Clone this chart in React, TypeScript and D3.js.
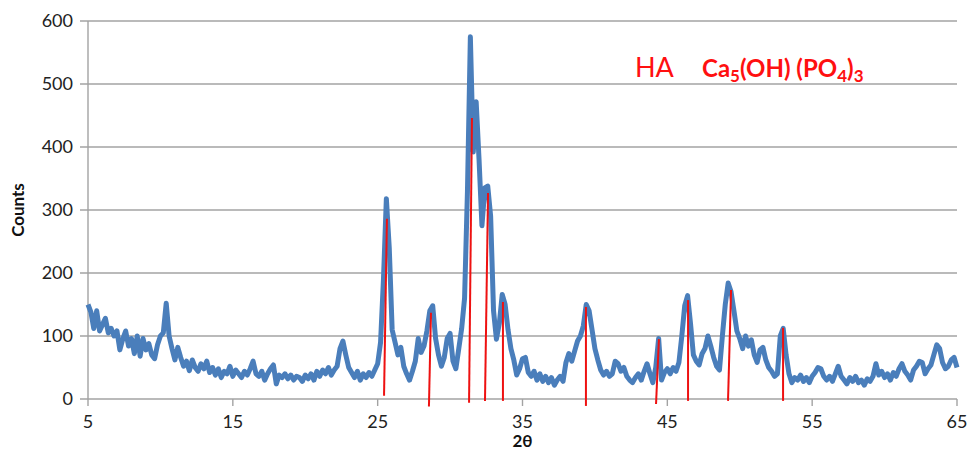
import React from 'react';
import * as d3 from 'd3';

// XRD scan, 2θ from 5 to 65 in 0.2° steps
const scanStart = 5;
const scanStep = 0.2;
const counts = [
  150, 138, 112, 140, 108, 118, 128, 105, 112, 100,
  108, 78, 95, 108, 84, 96, 72, 100, 68, 96,
  78, 88, 70, 64, 86, 100, 105, 152, 100, 80,
  62, 82, 66, 52, 60, 45, 62, 50, 44, 56,
  48, 60, 42, 50, 38, 48, 34, 44, 40, 52,
  36, 46, 40, 34, 44, 38, 48, 60, 40, 36,
  44, 30, 40, 48, 54, 24, 38, 34, 40, 32,
  38, 30, 36, 34, 28, 38, 32, 40, 30, 44,
  36, 46, 40, 50, 38, 46, 52, 80, 92, 70,
  50, 42, 34, 44, 30, 40, 34, 42, 36, 46,
  56, 90, 190, 318, 240, 110, 90, 70, 82, 52,
  40, 30, 44, 60, 96, 74, 84, 108, 140, 148,
  96, 70, 52, 66, 96, 104, 60, 48, 80, 112,
  160, 330, 575, 392, 472, 380, 275, 335, 338, 290,
  140, 95, 120, 166, 150, 110, 80, 62, 38, 48,
  64, 66, 42, 36, 44, 30, 40, 28, 36, 26,
  34, 22, 30, 36, 28, 58, 72, 60, 76, 92,
  100, 116, 150, 140, 110, 80, 62, 46, 38, 44,
  36, 40, 60, 56, 44, 50, 36, 30, 26, 34,
  40, 30, 44, 56, 40, 26, 50, 96, 30, 42,
  48, 40, 50, 44, 58, 100, 148, 164, 120, 70,
  60, 54, 72, 80, 100, 84, 66, 52, 46, 100,
  150, 184, 170, 140, 108, 96, 80, 100, 84, 94,
  70, 58, 78, 82, 62, 50, 44, 36, 40, 100,
  112, 70, 40, 26, 34, 30, 38, 28, 34, 26,
  36, 42, 50, 48, 36, 30, 36, 28, 40, 52,
  36, 30, 24, 34, 28, 36, 26, 30, 22, 32,
  28, 36, 56, 38, 44, 34, 40, 30, 42, 36,
  48, 56, 44, 38, 30, 46, 52, 60, 58, 40,
  48, 54, 70, 86, 80, 58, 48, 52, 62, 66,
  50,
];

// HA reference reflections (red sticks): bottom and top ends
const refTop2Theta = [25.64, 28.68, 31.51, 32.62, 33.65, 39.38, 44.42, 46.43, 49.4, 52.99];
const refTopCounts = [286, 137, 446, 327, 154, 146, 95, 157, 173, 113];
const refBottom2Theta = [25.44, 28.54, 31.31, 32.41, 33.65, 39.38, 44.22, 46.43, 49.19, 52.99];
const refBottomCounts = [5, -12, -6, -3, -3, -11, -8, -3, -3, -3];

const xTicks = [5, 15, 25, 35, 45, 55, 65];
const yTicks = [0, 100, 200, 300, 400, 500, 600];

const W = 968;
const H = 459;
const margin = { top: 21, right: 11, bottom: 60, left: 88 };
const font = 'Lato, "Open Sans", sans-serif';
const gridColor = '#a3a3a3';

export default function App() {
  const x = d3.scaleLinear().domain([5, 65]).range([margin.left, W - margin.right]);
  const y = d3.scaleLinear().domain([0, 600]).range([H - margin.bottom, margin.top]);

  const points: [number, number][] = counts.map((c, i) => [scanStart + i * scanStep, c]);
  const line = d3
    .line<[number, number]>()
    .x(d => x(d[0]))
    .y(d => y(d[1]));

  const x0 = x(5);
  const x1 = x(65);
  const yBase = y(0);

  return (
    <svg
      width={W}
      height={H}
      style={{ position: 'absolute', left: 0, top: 0, background: '#fff' }}
      fontFamily={font}
    >
      {/* horizontal gridlines + y ticks */}
      {yTicks.map(t => (
        <g key={t}>
          <line x1={x0 - 8} x2={x1} y1={y(t)} y2={y(t)} stroke={gridColor} strokeWidth={1.4} />
          <text x={x0 - 15} y={y(t)} dy="0.35em" textAnchor="end" fontSize={18} fill="#222">
            {t}
          </text>
        </g>
      ))}
      {/* y axis line */}
      <line x1={x0} x2={x0} y1={y(600)} y2={yBase} stroke={gridColor} strokeWidth={1.4} />
      {/* x ticks */}
      {xTicks.map(t => (
        <g key={t}>
          <line x1={x(t)} x2={x(t)} y1={yBase} y2={yBase + 7} stroke={gridColor} strokeWidth={1.4} />
          <text x={x(t)} y={yBase + 29} textAnchor="middle" fontSize={18} fill="#222">
            {t}
          </text>
        </g>
      ))}

      {/* scan */}
      <path
        d={line(points) || ''}
        fill="none"
        stroke="#4a7ebb"
        strokeWidth={5}
        strokeLinejoin="round"
      />

      {/* reference sticks */}
      {refTop2Theta.map((t, i) => (
        <line
          key={i}
          x1={x(refBottom2Theta[i])}
          y1={y(refBottomCounts[i])}
          x2={x(t)}
          y2={y(refTopCounts[i])}
          stroke="#ee1111"
          strokeWidth={2}
        />
      ))}

      {/* axis titles */}
      <text
        transform={`translate(24,${(y(600) + yBase) / 2}) rotate(-90)`}
        textAnchor="middle"
        fontSize={17}
        fontWeight="bold"
        fill="#111"
      >
        Counts
      </text>
      <text x={(x0 + x1) / 2} y={H - 12} textAnchor="middle" fontSize={17} fontWeight="bold" fill="#111">
        2θ
      </text>

      {/* phase annotation */}
      <text x={635} y={77} fontSize={27} fill="#ff1010">
        HA
      </text>
      <text x={702} y={77} fontSize={24} fontWeight="bold" fill="#ff1010">
        Ca
        <tspan fontSize={17} dy={5}>5</tspan>
        <tspan dy={-5}>(OH) (PO</tspan>
        <tspan fontSize={17} dy={5}>4</tspan>
        <tspan dy={-5}>)</tspan>
        <tspan fontSize={17} dy={5}>3</tspan>
      </text>
    </svg>
  );
}
